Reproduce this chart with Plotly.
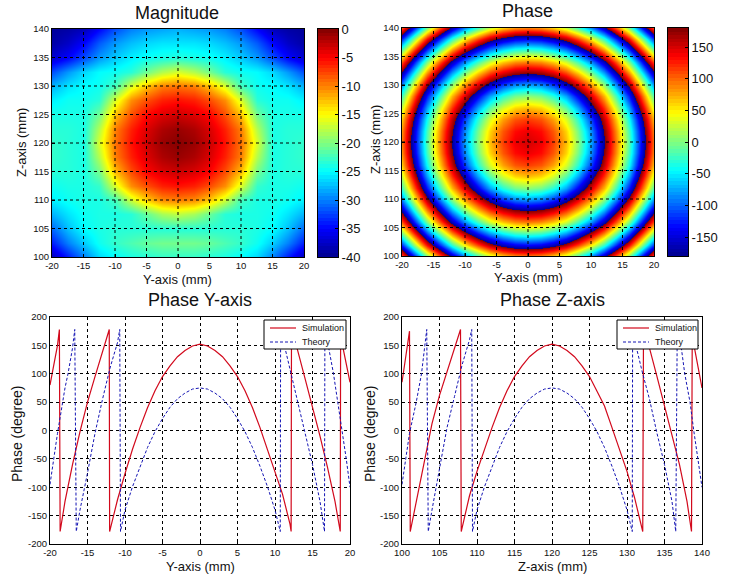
import plotly.graph_objects as go

W, H = 740, 576

# ---- data ----
axis_y_ticks = [-20, -15, -10, -5, 0, 5, 10, 15, 20]
axis_z_ticks = [100, 105, 110, 115, 120, 125, 130, 135, 140]
phase_ticks = [-200, -150, -100, -50, 0, 50, 100, 150, 200]
mag_cbar_ticks = [-40, -35, -30, -25, -20, -15, -10, -5, 0]
phase_cbar_ticks = [-150, -100, -50, 0, 50, 100, 150]
legend_labels = ["Simulation", "Theory"]

mag_y = [-20, -17.5, -15, -12.5, -10, -7.5, -5, -2.5, 0, 2.5, 5, 7.5, 10, 12.5, 15, 17.5, 20]
mag_z = [140, 137.5, 135, 132.5, 130, 127.5, 125, 122.5, 120, 117.5, 115, 112.5, 110, 107.5, 105, 102.5, 100]
# half rows (y = -20 .. 0), top row is z = 140
mag_half = [
    [-39.5, -39, -38, -35, -32, -30, -29, -28.5, -28],
    [-39, -37.5, -35, -31.5, -29, -27.5, -26.5, -26, -26],
    [-37, -35, -32, -29, -27, -25.5, -24.5, -24, -23.5],
    [-32, -29, -26.5, -25, -24.5, -23.5, -20.5, -18, -16.5],
    [-28, -26, -25, -24.5, -22.5, -16.5, -12.5, -10, -9.5],
    [-25.5, -24.5, -24.5, -23.5, -16.5, -10.6, -8, -6.2, -5.6],
    [-24, -24, -24, -20.5, -12.5, -8, -5, -3.6, -3],
    [-23.5, -23.5, -24, -18, -10, -6.2, -3.6, -1.8, -1],
    [-23, -23.5, -24, -16.5, -9.5, -5.6, -3, -1, -0.3],
    [-23, -23.5, -24, -18, -10, -6.2, -3.6, -1.8, -1],
    [-23.5, -23.5, -24, -20.5, -12.5, -8, -5, -3.6, -3],
    [-24.5, -24, -24, -23, -16.5, -10.6, -8, -6.2, -5.6],
    [-25.5, -24.5, -24, -24, -22.5, -17, -13, -10.5, -10],
    [-28, -26, -24.5, -24, -24, -23.5, -21, -18.5, -17.5],
    [-31, -27.5, -25, -24, -23.5, -23.5, -23.5, -23.5, -23.5],
    [-34, -30, -27, -24.5, -23, -22, -21, -20.5, -20.5],
    [-38, -34, -30, -26.5, -25, -24, -23.5, -23, -23],
]

# unwrapped phase, one quadrant: offset 0,2,..20 mm from the centre (120 mm / 0 mm)
phase_offsets = [0, 2, 4, 6, 8, 10, 12, 14, 16, 18, 20]
phase_quadrant = [
    [150, 141, 114, 69, 5, -76, -175, -268, -374, -494, -628],
    [141, 132, 105, 60, -4, -85, -183, -275, -381, -501, -635],
    [114, 105, 78, 32, -31, -112, -204, -296, -402, -522, -656],
    [69, 60, 32, -13, -76, -157, -240, -331, -437, -557, -692],
    [5, -4, -31, -76, -139, -211, -289, -381, -487, -607, -741],
    [-76, -85, -112, -157, -211, -275, -353, -444, -550, -670, -804],
    [-175, -183, -204, -240, -289, -353, -430, -522, -628, -748, -882],
    [-268, -275, -296, -331, -381, -444, -522, -614, -720, -840, -974],
    [-374, -381, -402, -437, -487, -550, -628, -720, -826, -946, -1080],
    [-494, -501, -522, -557, -607, -670, -748, -840, -946, -1066, -1200],
    [-628, -635, -656, -692, -741, -804, -882, -974, -1080, -1200, -1334],
]

sim_y_x = [-20, -19.5, -19, -18.75, -18.65, -18, -17, -16, -15, -14, -13, -12.1, -12.05, -11, -10, -9, -8, -7, -6, -5, -4, -3, -2, -1, 0,
           1, 2, 3, 4, 5, 6, 7, 8, 9, 10, 11, 12, 12.15, 12.2, 13, 14, 15, 16, 17, 18, 18.7, 18.75, 19, 20]
sim_y_v = [80, 115, 150, 178, -178, -125, -60, -2, 50, 95, 140, 178, -178, -122, -76, -33, 5, 40, 70, 95, 114, 130, 141, 149, 152,
           149, 141, 130, 114, 95, 70, 40, 5, -33, -72, -112, -165, -178, 178, 142, 92, 42, -10, -65, -125, -178, 178, 150, 85]
thy_y_x = [-20, -19.5, -19, -18, -17.6, -17, -16.7, -16.5, -16, -15, -14, -13, -12, -11, -10.7, -10.6, -10, -9, -8, -7, -6, -5, -4, -3, -2, -1, 0,
           1, 2, 3, 4, 5, 6, 7, 8, 9, 10, 10.7, 10.75, 11, 12, 13, 14, 15, 16, 16.6, 16.65, 17.1, 17.8, 18.4, 19, 19.5, 20]
thy_y_v = [-95, -50, -5, 75, 100, 145, 178, -178, -140, -75, -5, 55, 110, 155, 178, -178, -140, -99, -63, -30, -2, 21, 41, 56, 66, 73, 75,
           73, 66, 56, 41, 21, -2, -30, -63, -99, -140, -178, 178, 164, 108, 52, -7, -60, -125, -178, 178, 150, 100, 50, 0, -50, -100]

sim_z_x = [100, 100.5, 101, 101.1, 102, 103, 104, 105, 106, 107, 107.8, 107.9, 109, 110, 111, 112, 113, 114, 115, 116, 117, 118, 119, 120,
           121, 122, 123, 124, 125, 126, 127, 128, 129, 130, 131, 132, 132.1, 132.2, 133, 134, 135, 136, 137, 138, 138.6, 138.7, 139, 140]
sim_z_v = [85, 130, 175, -178, -118, -50, 12, 62, 105, 145, 178, -178, -115, -72, -32, 5, 40, 70, 95, 114, 130, 141, 149, 152,
           149, 141, 130, 114, 95, 70, 43, 5, -32, -72, -118, -170, -178, 178, 145, 95, 45, -5, -60, -125, -178, 178, 145, 75]
thy_z_x = [100, 100.5, 101, 101.9, 102.6, 103.3, 103.5, 104, 105, 106, 107, 108, 109, 109.3, 109.4, 110, 111, 112, 113, 114, 115, 116, 117, 118, 119, 120,
           121, 122, 123, 124, 125, 126, 127, 128, 129, 130, 130.7, 130.75, 131, 132, 133, 134, 135, 136, 136.5, 136.7, 137.2, 137.7, 138.4, 138.9, 139.5, 140]
thy_z_v = [-95, -50, -5, 50, 100, 178, -178, -140, -70, 5, 60, 115, 160, 178, -178, -140, -99, -63, -30, -2, 21, 41, 56, 66, 73, 75,
           73, 66, 56, 41, 21, -2, -30, -63, -99, -140, -178, 178, 160, 105, 55, -5, -60, -125, -178, 178, 150, 100, 50, 0, -50, -100]

# ---- styles ----
FONT = "Liberation Sans, Arial, sans-serif"
JET = [(0, "rgb(0,0,143)"), (0.125, "rgb(0,0,255)"), (0.375, "rgb(0,255,255)"),
       (0.625, "rgb(255,255,0)"), (0.875, "rgb(255,0,0)"), (1, "rgb(128,0,0)")]
PERIODS = 5
WRAPPED = [[(k + s) / PERIODS, c] for k in range(PERIODS) for s, c in JET]
RED = "#d2091c"
BLUE = "#1414b4"
SIM_LINE = dict(color=RED, width=1.2)
THY_LINE = dict(color=BLUE, width=1, dash="3px,2px")


def hdom(a, b):
    return [a / W, b / W]


def vdom(top, bottom):
    return [1 - bottom / H, 1 - top / H]


fig = go.Figure()
layout = {}


def axes(n, xdom, ydom, xrange, yrange, xticks, yticks, grid=False):
    common = dict(showline=True, mirror=True, linecolor="black", linewidth=1, ticks="inside", ticklen=3,
                  tickcolor="black", tickfont=dict(family=FONT, size=9.5, color="#111"), zeroline=False,
                  showgrid=grid, gridcolor="black", griddash="3px,3px", gridwidth=1, tickmode="array")
    layout[f"xaxis{n}"] = dict(domain=xdom, range=xrange, tickvals=xticks, ticktext=[str(v) for v in xticks],
                               anchor=f"y{n}", **common)
    layout[f"yaxis{n}"] = dict(domain=ydom, range=yrange, tickvals=yticks, ticktext=[str(v) for v in yticks],
                               anchor=f"x{n}", **common)


def colorbar(n, xdom, ydom, lo, hi, ticks, colorscale=JET):
    levels = [lo + (hi - lo) * (i + 0.5) / 64 for i in range(64)]
    fig.add_trace(go.Heatmap(x=[0], y=levels, z=[[v] for v in levels], zmin=lo, zmax=hi, colorscale=colorscale,
                             showscale=False, hoverinfo="skip", xaxis=f"x{n}", yaxis=f"y{n}"))
    layout[f"xaxis{n}"] = dict(domain=xdom, anchor=f"y{n}", showticklabels=False, ticks="", showgrid=False,
                               zeroline=False, showline=True, mirror=True, linecolor="black", range=[-0.5, 0.5])
    layout[f"yaxis{n}"] = dict(domain=ydom, anchor=f"x{n}", side="right", range=[lo, hi], tickmode="array",
                               tickvals=ticks, ticktext=[str(v) for v in ticks], ticks="inside", ticklen=3,
                               tickcolor="black", showgrid=False, zeroline=False, showline=True, mirror=True,
                               linecolor="black", tickfont=dict(family=FONT, size=13, color="#111"))


def grid_shapes(n, xticks, yticks):
    out = []
    line = dict(color="black", width=1, dash="3px,3px")
    for v in xticks[1:-1]:
        out.append(dict(type="line", xref=f"x{n}", yref=f"y{n} domain", x0=v, x1=v, y0=0, y1=1, line=line))
    for v in yticks[1:-1]:
        out.append(dict(type="line", xref=f"x{n} domain", yref=f"y{n}", x0=0, x1=1, y0=v, y1=v, line=line))
    return out


# Magnitude
mag_rows = [r + r[-2::-1] for r in mag_half]
fig.add_trace(go.Heatmap(x=mag_y, y=mag_z[::-1], z=mag_rows[::-1], zmin=-40, zmax=0, colorscale=JET, zsmooth="best",
                         showscale=False, xaxis="x", yaxis="y"))
axes("", hdom(52, 304), vdom(29, 257), [-20, 20], [100, 140], axis_y_ticks, axis_z_ticks)
colorbar(2, hdom(318, 338), vdom(29, 257), -40, 0, mag_cbar_ticks)

# Phase (colours repeat every 360 degrees, as the phase wraps)
full_rows = [r[:0:-1] + r for r in phase_quadrant]
full_rows = full_rows[:0:-1] + full_rows
phase_y = [-v for v in phase_offsets[:0:-1]] + phase_offsets
phase_z = [120 + v for v in phase_y]
fig.add_trace(go.Heatmap(x=phase_y, y=phase_z, z=full_rows, zmin=-1620, zmax=180, colorscale=WRAPPED, zsmooth="best",
                         showscale=False, xaxis="x3", yaxis="y3"))
axes(3, hdom(402, 654), vdom(28, 256), [-20, 20], [100, 140], axis_y_ticks, axis_z_ticks)
colorbar(4, hdom(668, 688), vdom(28, 256), -180, 180, phase_cbar_ticks)

# Line plots
for n, sx, sv, tx, tv in [(5, sim_y_x, sim_y_v, thy_y_x, thy_y_v), (6, sim_z_x, sim_z_v, thy_z_x, thy_z_v)]:
    fig.add_trace(go.Scatter(x=sx, y=sv, mode="lines", name=legend_labels[0], line=SIM_LINE,
                             xaxis=f"x{n}", yaxis=f"y{n}", showlegend=False))
    fig.add_trace(go.Scatter(x=tx, y=tv, mode="lines", name=legend_labels[1], line=THY_LINE,
                             xaxis=f"x{n}", yaxis=f"y{n}", showlegend=False))
axes(5, hdom(50, 350), vdom(317, 544), [-20, 20], [-200, 200], axis_y_ticks, phase_ticks, grid=True)
axes(6, hdom(402, 702), vdom(317, 544), [100, 140], [-200, 200], axis_z_ticks, phase_ticks, grid=True)


# Texts
def text(x, y, s, size, angle=0, anchor="center"):
    return dict(xref="paper", yref="paper", x=x / W, y=1 - y / H, text=s, showarrow=False, textangle=angle,
                xanchor=anchor, yanchor="middle", font=dict(family=FONT, size=size, color="#111"))


annotations = [
    text(177, 13, "Magnitude", 18), text(527, 11, "Phase", 18),
    text(200, 300, "Phase Y-axis", 18), text(552, 300, "Phase Z-axis", 18),
    text(177, 279, "Y-axis (mm)", 13), text(528, 277, "Y-axis (mm)", 13),
    text(200, 566, "Y-axis (mm)", 13), text(552, 566, "Z-axis (mm)", 13),
    text(22, 143, "Z-axis (mm)", 13, -90), text(375, 140, "Z-axis (mm)", 13, -90),
    text(17, 434, "Phase (degree)", 14, -90), text(370, 434, "Phase (degree)", 14, -90),
]

shapes = grid_shapes("", axis_y_ticks, axis_z_ticks) + grid_shapes(3, axis_y_ticks, axis_z_ticks)


def pline(x0, y0, x1, y1, line):
    return dict(type="line", xref="paper", yref="paper", x0=x0 / W, x1=x1 / W, y0=1 - y0 / H, y1=1 - y1 / H, line=line)


# Legends inside the two line plots
for left, right in [(264, 346), (617, 698)]:
    shapes.append(dict(type="rect", xref="paper", yref="paper", x0=left / W, x1=right / W, y0=1 - 349 / H, y1=1 - 320 / H,
                       fillcolor="white", line=dict(color="black", width=1)))
    shapes.append(pline(left + 6, 328, left + 32, 328, SIM_LINE))
    shapes.append(pline(left + 6, 342, left + 32, 342, THY_LINE))
    annotations.append(text(left + 36, 328, legend_labels[0], 9, anchor="left"))
    annotations.append(text(left + 36, 342, legend_labels[1], 9, anchor="left"))

fig.update_layout(width=W, height=H, autosize=False, margin=dict(l=0, r=0, t=0, b=0, autoexpand=False),
                  paper_bgcolor="white", plot_bgcolor="white", showlegend=False,
                  annotations=annotations, shapes=shapes, **layout)

fig.write_html("out.html", config={"displayModeBar": False},
               post_script="document.body.style.margin='0';document.body.style.overflow='hidden';")
